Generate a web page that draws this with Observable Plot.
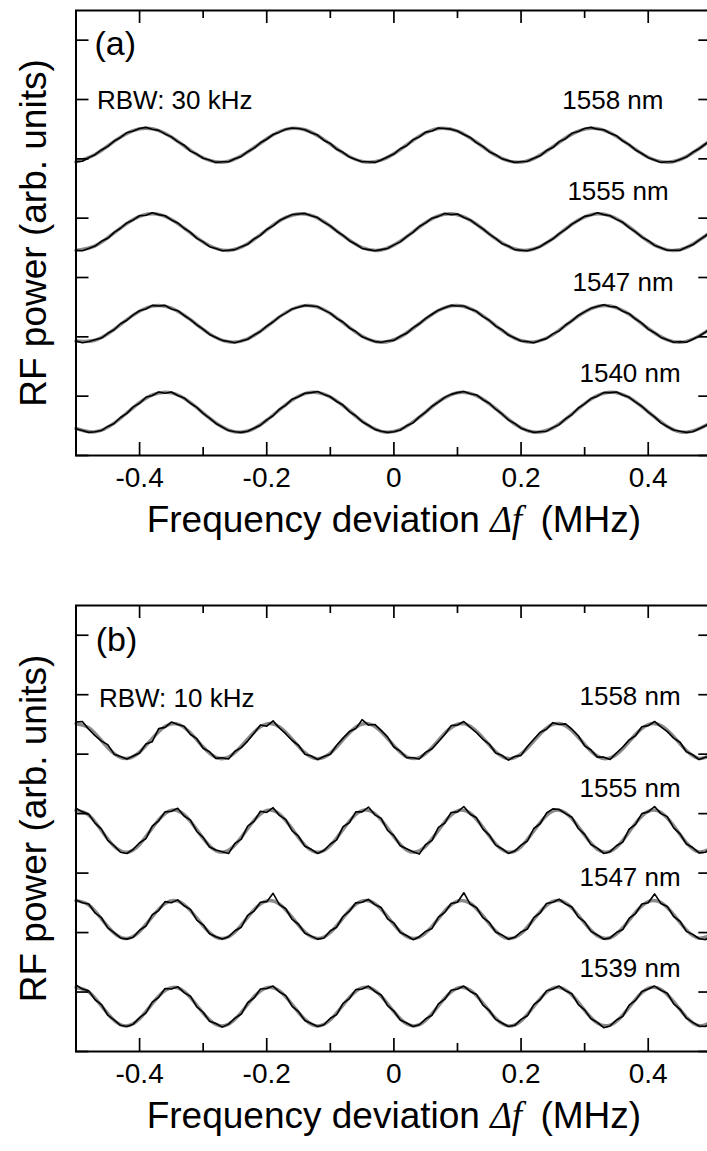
<!DOCTYPE html>
<html><head><meta charset="utf-8">
<script src="https://cdn.jsdelivr.net/npm/d3@7"></script>
<script src="https://cdn.jsdelivr.net/npm/@observablehq/plot@0.6"></script>
<style>
html,body{margin:0;padding:0;background:#fff;overflow:hidden;width:707px;height:1151px;}
svg{display:block}
</style></head><body><div id="chart"></div>
<script>
// Frequency deviation grid (MHz)
const freq = [-0.50,-0.49,-0.48,-0.47,-0.46,-0.45,-0.44,-0.43,-0.42,-0.41,
 -0.40,-0.39,-0.38,-0.37,-0.36,-0.35,-0.34,-0.33,-0.32,-0.31,
 -0.30,-0.29,-0.28,-0.27,-0.26,-0.25,-0.24,-0.23,-0.22,-0.21,
 -0.20,-0.19,-0.18,-0.17,-0.16,-0.15,-0.14,-0.13,-0.12,-0.11,
 -0.10,-0.09,-0.08,-0.07,-0.06,-0.05,-0.04,-0.03,-0.02,-0.01,
 0.00,0.01,0.02,0.03,0.04,0.05,0.06,0.07,0.08,0.09,
 0.10,0.11,0.12,0.13,0.14,0.15,0.16,0.17,0.18,0.19,
 0.20,0.21,0.22,0.23,0.24,0.25,0.26,0.27,0.28,0.29,
 0.30,0.31,0.32,0.33,0.34,0.35,0.36,0.37,0.38,0.39,
 0.40,0.41,0.42,0.43,0.44,0.45,0.46,0.47,0.48,0.49,
 0.50];
const fitFreqA = [-0.50,-0.47,-0.44,-0.41,-0.38,-0.35,-0.32,-0.29,-0.26,-0.23,-0.20,-0.17,-0.14,-0.11,-0.08,-0.05,-0.02,0.01,0.04,0.07,0.10,0.13,0.16,0.19,0.22,0.25,0.28,0.31,0.34,0.37,0.40,0.43,0.46,0.49,0.50];
const fitFreqB = [-0.50,-0.48,-0.46,-0.44,-0.42,-0.40,-0.38,-0.36,-0.34,-0.32,-0.30,-0.28,-0.26,-0.24,-0.22,-0.20,-0.18,-0.16,-0.14,-0.12,-0.10,-0.08,-0.06,-0.04,-0.02,0.00,0.02,0.04,0.06,0.08,0.10,0.12,0.14,0.16,0.18,0.20,0.22,0.24,0.26,0.28,0.30,0.32,0.34,0.36,0.38,0.40,0.42,0.44,0.46,0.48,0.50];

// Panel (a), RBW 30 kHz — measured traces
const a1558 = [4.95,4.96,5.02,5.07,5.15,5.21,5.30,5.36,5.44,5.47,
 5.51,5.53,5.50,5.48,5.42,5.37,5.29,5.23,5.13,5.08,
 5.01,4.98,4.94,4.95,4.95,5.00,5.04,5.12,5.18,5.27,
 5.33,5.41,5.45,5.50,5.52,5.51,5.49,5.44,5.40,5.31,
 5.26,5.16,5.11,5.03,4.99,4.95,4.95,4.94,4.98,5.03,
 5.08,5.17,5.22,5.32,5.37,5.45,5.47,5.52,5.51,5.50,
 5.47,5.41,5.36,5.27,5.21,5.12,5.07,5.00,4.97,4.94,
 4.95,4.96,5.01,5.05,5.14,5.19,5.29,5.34,5.43,5.46,
 5.51,5.53,5.50,5.49,5.43,5.39,5.30,5.24,5.15,5.09,
 5.02,4.98,4.94,4.95,4.95,4.99,5.03,5.11,5.17,5.25,
 5.32];
const a1555 = [3.46,3.45,3.49,3.53,3.61,3.66,3.76,3.83,3.92,3.97,
 4.04,4.05,4.09,4.06,4.04,3.97,3.92,3.83,3.76,3.66,
 3.60,3.52,3.49,3.45,3.46,3.47,3.52,3.56,3.65,3.71,
 3.81,3.87,3.96,4.01,4.06,4.07,4.08,4.04,4.01,3.93,
 3.87,3.78,3.71,3.62,3.56,3.49,3.47,3.45,3.47,3.49,
 3.55,3.60,3.69,3.76,3.86,3.92,4.00,4.03,4.08,4.06,
 4.07,4.01,3.97,3.89,3.82,3.73,3.66,3.57,3.53,3.47,
 3.46,3.45,3.48,3.52,3.59,3.65,3.74,3.81,3.90,3.96,
 4.03,4.05,4.09,4.06,4.04,3.98,3.93,3.84,3.77,3.68,
 3.62,3.54,3.50,3.46,3.46,3.46,3.51,3.55,3.63,3.70,
 3.79];
const a1547 = [1.93,1.90,1.92,1.95,1.98,2.06,2.12,2.22,2.28,2.37,
 2.44,2.47,2.53,2.52,2.53,2.47,2.44,2.36,2.29,2.20,
 2.13,2.04,1.99,1.94,1.92,1.90,1.93,1.96,2.03,2.09,
 2.18,2.25,2.34,2.40,2.47,2.50,2.53,2.52,2.51,2.45,
 2.40,2.31,2.25,2.15,2.09,2.00,1.96,1.92,1.91,1.93,
 1.94,2.01,2.06,2.15,2.22,2.31,2.38,2.45,2.49,2.53,
 2.52,2.52,2.47,2.43,2.34,2.28,2.18,2.12,2.03,1.98,
 1.93,1.92,1.90,1.94,1.97,2.05,2.10,2.20,2.27,2.36,
 2.42,2.48,2.51,2.54,2.51,2.50,2.43,2.39,2.30,2.23,
 2.13,2.07,1.99,1.95,1.91,1.92,1.91,1.96,2.01,2.08,
 2.15];
const a1540 = [0.45,0.42,0.39,0.40,0.42,0.49,0.54,0.64,0.71,0.82,
 0.88,0.98,1.01,1.07,1.05,1.07,1.01,0.97,0.88,0.81,
 0.71,0.63,0.54,0.48,0.42,0.40,0.39,0.41,0.46,0.51,
 0.60,0.67,0.78,0.85,0.95,0.99,1.05,1.06,1.08,1.03,
 0.99,0.91,0.85,0.74,0.67,0.57,0.51,0.44,0.41,0.39,
 0.40,0.43,0.50,0.55,0.65,0.73,0.83,0.90,0.98,1.03,
 1.06,1.08,1.04,1.02,0.94,0.88,0.78,0.70,0.60,0.54,
 0.46,0.42,0.39,0.40,0.41,0.47,0.52,0.62,0.69,0.80,
 0.87,0.96,1.00,1.06,1.06,1.07,1.02,0.98,0.90,0.83,
 0.73,0.65,0.55,0.49,0.43,0.41,0.39,0.40,0.45,0.50,
 0.58];
// Panel (a) fitted curves (grey)
const fitA1558 = [4.948,5.074,5.295,5.477,5.507,5.367,5.143,4.973,4.960,5.114,5.339,5.497,5.491,5.324,5.100,4.955,4.979,5.158,5.380,5.510,5.468,5.280,5.060,4.946,5.005,5.203,5.417,5.517,5.440,5.234,5.026,4.943,5.037,5.249,5.324];
const fitA1555 = [3.457,3.534,3.753,3.979,4.074,3.979,3.753,3.534,3.457,3.570,3.802,4.012,4.070,3.941,3.704,3.504,3.465,3.610,3.851,4.038,4.058,3.898,3.655,3.481,3.481,3.655,3.898,4.058,4.038,3.851,3.610,3.465,3.504,3.704,3.785];
const fitA1547 = [1.929,1.942,2.125,2.366,2.517,2.484,2.289,2.050,1.916,1.967,2.173,2.408,2.526,2.456,2.239,2.011,1.910,1.999,2.223,2.445,2.528,2.421,2.190,1.977,1.913,2.037,2.273,2.476,2.521,2.380,2.141,1.949,1.923,2.079,2.158];
const fitA1540 = [0.455,0.399,0.546,0.807,1.020,1.055,0.891,0.628,0.428,0.413,0.594,0.858,1.043,1.036,0.841,0.578,0.407,0.436,0.645,0.906,1.059,1.010,0.789,0.531,0.396,0.466,0.698,0.950,1.067,0.976,0.735,0.490,0.393,0.503,0.578];

// Panel (b), RBW 10 kHz — measured traces
const b1558 = [5.54,5.55,5.42,5.31,5.22,5.16,5.00,4.96,4.92,4.97,
 5.02,5.17,5.21,5.43,5.45,5.54,5.50,5.47,5.33,5.26,
 5.10,5.04,4.93,4.94,4.92,5.05,5.11,5.22,5.35,5.49,
 5.47,5.56,5.44,5.34,5.23,5.15,5.00,4.97,4.91,4.96,
 5.00,5.15,5.27,5.38,5.43,5.58,5.49,5.50,5.40,5.29,
 5.12,5.05,4.94,4.94,4.92,5.03,5.09,5.21,5.33,5.48,
 5.49,5.55,5.45,5.36,5.25,5.17,5.02,4.98,4.90,4.96,
 4.98,5.13,5.25,5.37,5.42,5.53,5.50,5.51,5.42,5.31,
 5.14,5.07,4.95,4.95,4.91,5.02,5.12,5.24,5.31,5.46,
 5.48,5.55,5.46,5.38,5.27,5.20,5.04,4.99,4.91,4.95,
 4.96];
const b1555 = [4.09,4.03,3.99,3.84,3.74,3.55,3.46,3.35,3.33,3.40,
 3.51,3.58,3.79,3.88,4.03,4.04,4.09,3.96,3.89,3.70,
 3.60,3.44,3.39,3.36,3.33,3.50,3.57,3.79,3.87,4.04,
 4.02,4.10,3.97,3.90,3.71,3.62,3.45,3.40,3.33,3.38,
 3.49,3.56,3.78,3.85,4.03,4.03,4.11,3.98,3.92,3.72,
 3.63,3.46,3.41,3.36,3.32,3.48,3.55,3.77,3.84,4.02,
 4.03,4.12,3.99,3.93,3.74,3.64,3.47,3.41,3.33,3.37,
 3.47,3.54,3.75,3.83,4.01,4.08,4.07,4.00,3.94,3.75,
 3.65,3.48,3.42,3.33,3.36,3.46,3.52,3.74,3.82,4.00,
 4.03,4.12,4.00,3.95,3.76,3.66,3.49,3.43,3.34,3.35,
 3.44];
const b1547 = [2.55,2.50,2.48,2.33,2.25,2.08,2.00,1.91,1.89,1.92,
 2.04,2.11,2.30,2.37,2.52,2.50,2.55,2.45,2.39,2.21,
 2.13,1.98,1.93,1.89,1.93,2.03,2.09,2.29,2.36,2.51,
 2.52,2.66,2.47,2.40,2.22,2.14,1.99,1.94,1.89,1.91,
 2.03,2.09,2.27,2.36,2.50,2.51,2.56,2.47,2.42,2.23,
 2.16,2.00,1.95,1.88,1.93,2.02,2.07,2.26,2.34,2.49,
 2.51,2.67,2.48,2.42,2.25,2.17,2.01,1.96,1.89,1.92,
 2.01,2.06,2.25,2.33,2.49,2.51,2.56,2.48,2.43,2.26,
 2.18,2.02,1.96,1.89,1.91,2.00,2.05,2.24,2.32,2.48,
 2.50,2.65,2.49,2.44,2.27,2.19,2.02,1.97,1.90,1.88,
 1.95];
const b1539 = [1.12,1.05,1.02,0.87,0.79,0.61,0.53,0.44,0.42,0.46,
 0.57,0.65,0.83,0.91,1.06,1.05,1.09,0.99,0.93,0.75,
 0.66,0.51,0.47,0.41,0.46,0.56,0.63,0.82,0.90,1.05,
 1.06,1.10,1.00,0.94,0.76,0.67,0.52,0.47,0.42,0.45,
 0.56,0.62,0.81,0.89,1.04,1.05,1.10,1.01,0.95,0.77,
 0.68,0.53,0.48,0.42,0.45,0.55,0.61,0.80,0.88,1.03,
 1.05,1.10,1.01,0.96,0.78,0.69,0.54,0.48,0.42,0.44,
 0.54,0.60,0.79,0.87,1.02,1.05,1.10,1.02,0.97,0.79,
 0.70,0.55,0.49,0.40,0.43,0.53,0.59,0.78,0.86,1.01,
 1.05,1.10,1.03,0.98,0.80,0.71,0.56,0.49,0.43,0.42,
 0.49];
// Panel (b) fitted curves (grey)
const fitB1558 = [5.513,5.445,5.230,5.009,4.926,5.035,5.265,5.466,5.506,5.358,5.120,4.947,4.953,5.133,5.370,5.509,5.459,5.252,5.025,4.925,5.018,5.244,5.453,5.511,5.378,5.142,4.957,4.944,5.112,5.351,5.503,5.471,5.274,5.042,4.926,5.003,5.221,5.439,5.514,5.396,5.163,4.967,4.937,5.092,5.331,5.497,5.482,5.296,5.060,4.929,4.988];
const fitB1555 = [4.057,3.976,3.717,3.451,3.351,3.482,3.760,4.001,4.049,3.871,3.585,3.377,3.384,3.601,3.886,4.053,3.992,3.744,3.470,3.350,3.462,3.733,3.986,4.055,3.895,3.611,3.388,3.373,3.575,3.862,4.046,4.007,3.770,3.491,3.351,3.444,3.707,3.969,4.058,3.917,3.636,3.401,3.365,3.551,3.838,4.038,4.020,3.796,3.512,3.355,3.426];
const fitB1547 = [2.537,2.464,2.231,1.991,1.901,2.019,2.269,2.487,2.530,2.370,2.112,1.924,1.930,2.126,2.383,2.533,2.479,2.255,2.008,1.900,2.001,2.246,2.473,2.535,2.391,2.135,1.935,1.921,2.103,2.362,2.528,2.492,2.279,2.027,1.901,1.984,2.222,2.458,2.538,2.411,2.158,1.946,1.913,2.081,2.340,2.520,2.504,2.302,2.046,1.904,1.969];
const fitB1539 = [1.077,1.003,0.766,0.522,0.431,0.551,0.805,1.026,1.070,0.907,0.645,0.455,0.461,0.659,0.920,1.073,1.018,0.790,0.540,0.430,0.533,0.781,1.012,1.075,0.929,0.669,0.465,0.451,0.636,0.899,1.067,1.032,0.814,0.559,0.431,0.516,0.757,0.996,1.078,0.949,0.692,0.477,0.444,0.614,0.877,1.060,1.043,0.838,0.579,0.434,0.500];

// Labels and tick values
const labelsA = ["1558 nm","1555 nm","1547 nm","1540 nm"];
const labelXA = [0.424, 0.432, 0.440, 0.451];
const labelYA = [5.98, 4.44, 2.92, 1.375];
const labelsB = ["1558 nm","1555 nm","1547 nm","1539 nm"];
const labelXB = [0.451, 0.451, 0.451, 0.451];
const labelYB = [5.96, 4.42, 2.93, 1.39];
const majorTicks = [-0.4,-0.2,0,0.2,0.4];
const minorTicks = [-0.3,-0.1,0.1,0.3];
const yTicks = [0,1,2,3,4,5,6,7];
const xTitle = "Frequency deviation Δf (MHz)";
const yTitle = "RF power (arb. units)";

const FONT = "'Liberation Sans', Arial, Helvetica, sans-serif";

function panel(cfg) {
  const W = 707, mL = 75.5, mR = -4.3, mT = 10;
  const plotH = cfg.height - mT - cfg.marginBottom;
  const plotW = W - mL - mR;
  const lines = cfg.series.flatMap((s, i) => s.map((v, j) => ({x: freq[j], y: v, s: i})));
  const fits = cfg.fits.flatMap((s, i) => s.map((v, j) => ({x: cfg.fitFreq[j], y: v, s: i})));
  const tk = {stroke: "#000", strokeWidth: 1.7};
  const svg = Plot.plot({
    width: W, height: cfg.height,
    marginLeft: mL, marginRight: mR, marginTop: mT, marginBottom: cfg.marginBottom,
    x: {domain: [-0.5, 0.5]},
    y: {domain: [0, 7.5], axis: null},
    style: {fontFamily: FONT, background: "#fff", color: "#000", overflow: "hidden"},
    marks: [
      Plot.line(fits, {x: "x", y: "y", z: "s", stroke: "#8a8a8a", strokeWidth: 3.5, curve: "natural"}),
      Plot.line(lines, {x: "x", y: "y", z: "s", stroke: "#000", strokeWidth: 1.6, strokeLinejoin: "round"}),
      Plot.tickX(majorTicks, {x: d => d, insetTop: plotH - 13, ...tk}),
      Plot.tickX(majorTicks, {x: d => d, insetBottom: plotH - 13, ...tk}),
      Plot.tickX(minorTicks, {x: d => d, insetTop: plotH - 8, ...tk}),
      Plot.tickX(minorTicks, {x: d => d, insetBottom: plotH - 8, ...tk}),
      Plot.tickY(yTicks, {y: d => d, insetRight: plotW - 13, ...tk}),
      Plot.tickY(yTicks, {y: d => d, insetLeft: plotW - 13, ...tk}),
      Plot.frame({stroke: "#000", strokeWidth: 2}),
      Plot.axisX(majorTicks, {tickSize: 0, tickPadding: 12, fontSize: 28, label: null, tickFormat: d => String(d)}),
      Plot.text(cfg.labels, {x: (d, i) => cfg.labelX[i], y: (d, i) => cfg.labelY[i], text: d => d, textAnchor: "end", fontSize: 26, fill: "#000"}),
      Plot.text([cfg.rbw], {x: () => cfg.rbwX, y: () => cfg.rbwY, text: d => d, textAnchor: "start", fontSize: 26, fill: "#000"}),
      Plot.text([cfg.tag], {x: () => cfg.tagX, y: () => cfg.tagY, text: d => d, textAnchor: "start", fontSize: 34, fill: "#000"}),
      Plot.text([xTitle], {frameAnchor: "bottom", dy: 76.5, text: d => d, textAnchor: "middle", fontSize: 37, fill: "#000", className: "xtitle"}),
      Plot.text([yTitle], {frameAnchor: "left", dx: -42.3, rotate: -90, text: d => d, textAnchor: "middle", lineAnchor: "middle", fontSize: 37, fill: "#000"})
    ]
  });
  d3.select(svg).selectAll(".xtitle text").each(function() {
    const s = d3.select(this);
    s.text(null);
    s.append("tspan").text("Frequency deviation ");
    s.append("tspan").attr("font-family", "'Liberation Serif', 'DejaVu Serif', serif").attr("font-style", "italic").text("Δf");
    s.append("tspan").attr("dx", 8).text(" (MHz)");
  });
  return svg;
}

const chart = document.getElementById("chart");
chart.appendChild(panel({
  height: 595, marginBottom: 140,
  series: [a1558, a1555, a1547, a1540], fits: [fitA1558, fitA1555, fitA1547, fitA1540], fitFreq: fitFreqA,
  labels: labelsA, labelX: labelXA, labelY: labelYA,
  rbw: "RBW: 30 kHz", rbwX: -0.467, rbwY: 5.98,
  tag: "(a)", tagX: -0.471, tagY: 6.93
}));
chart.appendChild(panel({
  height: 556, marginBottom: 100,
  series: [b1558, b1555, b1547, b1539], fits: [fitB1558, fitB1555, fitB1547, fitB1539], fitFreq: fitFreqB,
  labels: labelsB, labelX: labelXB, labelY: labelYB,
  rbw: "RBW: 10 kHz", rbwX: -0.464, rbwY: 5.93,
  tag: "(b)", tagX: -0.469, tagY: 6.91
}));
</script>
</body></html>
